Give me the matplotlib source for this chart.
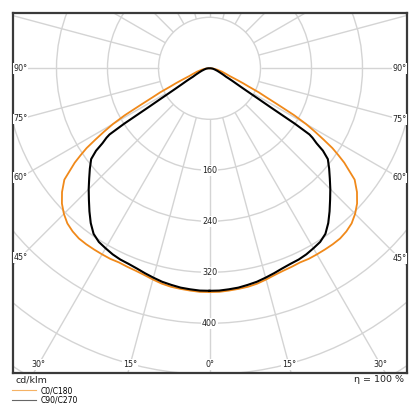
import numpy as np
import matplotlib
matplotlib.use("Agg")
import matplotlib.pyplot as plt
from matplotlib.patches import Circle
from matplotlib.lines import Line2D

# ---- data (cd/klm vs gamma angle in degrees, 0 = straight down) ----
gamma_c0 = [0, 2.5, 5, 7.5, 10, 12.5, 15, 17.5, 20, 22.5, 25, 27.5, 30, 32.5, 35,
            37.5, 40, 42.5, 45, 47.5, 50, 52.5, 55, 56, 57, 58, 59, 60, 61, 62,
            63, 64, 65, 66, 67, 68, 69, 71, 75, 80, 85, 90]
c0_c180 = [351, 351, 350, 349, 348, 346, 343, 340, 338, 337, 336, 337, 337, 337, 337,
           336.5, 334, 330, 323, 314, 302, 287, 258, 244, 230, 211, 193, 175, 152, 122,
           100, 86, 68, 58, 48, 40, 34, 28, 20, 12, 6, 2]

gamma_c90 = [0, 2.5, 5, 7.5, 10, 12.5, 15, 17.5, 20, 22.5, 25, 27.5, 30, 32.5, 35,
             37.5, 40, 42.5, 45, 47.5, 50, 52.5, 54, 55, 56, 56.5, 57, 57.5, 58, 58.5,
             59, 60, 61, 62, 63, 65, 68, 72, 78, 84, 90]
c90_c270 = [349, 349, 348, 347, 345, 343, 340, 337, 334, 332, 331, 329, 326, 323, 317,
            306, 293, 280, 268, 256, 245, 234, 220, 205, 195, 188, 160, 112, 90, 74,
            63, 50, 42, 35, 29, 24, 18, 13, 8, 5, 2]

series_names = ["C0/C180", "C90/C270"]
series_colors = ["#f0891a", "#000000"]
ring_values = [80, 160, 240, 320, 400, 480, 560, 640]
ring_labels = [160, 240, 320, 400]
spoke_step = 15
unit_label = "cd/klm"
eff_label = "η = 100 %"

# ---- figure ----
fig = plt.figure(figsize=(4.2, 4.2), dpi=100)
W = H = 420.0
cx_px, cy_px = 209.5, 68.3
left_px, right_px, top_px, bot_px = 13, 407, 13, 373
scale = 0.6375  # px per cd/klm
ax = fig.add_axes([left_px / W, 1 - bot_px / H, (right_px - left_px) / W, (bot_px - top_px) / H])
xmin = (left_px - cx_px) / scale
xmax = (right_px - cx_px) / scale
ymax = (cy_px - top_px) / scale
ymin = (cy_px - bot_px) / scale
ax.set_xlim(xmin, xmax)
ax.set_ylim(ymin, ymax)
ax.set_aspect("equal", adjustable="box")
ax.set_xticks([])
ax.set_yticks([])
for s in ax.spines.values():
    s.set_color("#3a3a3a")
    s.set_linewidth(1.6)

grid_c = "#d4d4d4"
grid_lw = 1.0
r0 = ring_values[0]
for rv in ring_values:
    ax.add_patch(Circle((0, 0), rv, fill=False, ec=grid_c, lw=grid_lw, zorder=1))
for a in range(0, 360, spoke_step):
    t = np.radians(a)
    ax.plot([-r0 * np.sin(t), -1000 * np.sin(t)], [-r0 * np.cos(t), -1000 * np.cos(t)],
            color=grid_c, lw=grid_lw, zorder=1, solid_capstyle="butt")

# ring labels on the 0° axis
for rv in ring_labels:
    ax.text(0, -rv, str(rv), ha="center", va="center", fontsize=5.8, color="#222222",
            bbox=dict(boxstyle="square,pad=0.15", fc="white", ec="none"), zorder=3)

# angle labels
inset_x = 7.5 / scale
inset_y = 8.5 / scale
for a in range(0, 91, spoke_step):
    t = np.radians(a)
    for sgn in (-1, 1):
        if a == 0 and sgn == 1:
            continue
        if a >= 45:
            xl = (xmin + inset_x) if sgn < 0 else (xmax - inset_x)
            yl = -abs(xl) / np.tan(t) if a < 90 else 0.0
        else:
            yl = ymin + inset_y
            xl = sgn * abs(yl) * np.tan(t)
        ax.text(xl, yl, f"{a}°", ha="center", va="center", fontsize=5.8, color="#222222",
                bbox=dict(boxstyle="square,pad=0.1", fc="white", ec="none"), zorder=3)

# curves (symmetric about the vertical axis)
for gam, vals, col, lw in [(gamma_c0, c0_c180, series_colors[0], 1.3),
                           (gamma_c90, c90_c270, series_colors[1], 1.5)]:
    g = np.radians(np.array(gam, dtype=float))
    v = np.array(vals, dtype=float)
    xs = np.concatenate([-v * np.sin(g), (v * np.sin(g))[::-1]])
    ys = np.concatenate([-v * np.cos(g), (-v * np.cos(g))[::-1]])
    ax.plot(xs, ys, color=col, lw=lw, zorder=4, solid_joinstyle="round")

fig.text(16 / W, 1 - 380 / H, unit_label, ha="left", va="center", fontsize=6.8, color="#222222")
fig.text(404 / W, 1 - 380 / H, eff_label, ha="right", va="center", fontsize=6.8, color="#222222")

handles = [Line2D([], [], color="#f5b264", lw=0.8), Line2D([], [], color="#666666", lw=0.8)]
fig.legend(handles, series_names, loc="upper left", bbox_to_anchor=(12 / W, 1 - 386 / H),
           frameon=False, fontsize=5.5, handlelength=3.2, handletextpad=0.6,
           labelspacing=0.05, borderpad=0, borderaxespad=0)

fig.savefig("out.png", dpi=100)
